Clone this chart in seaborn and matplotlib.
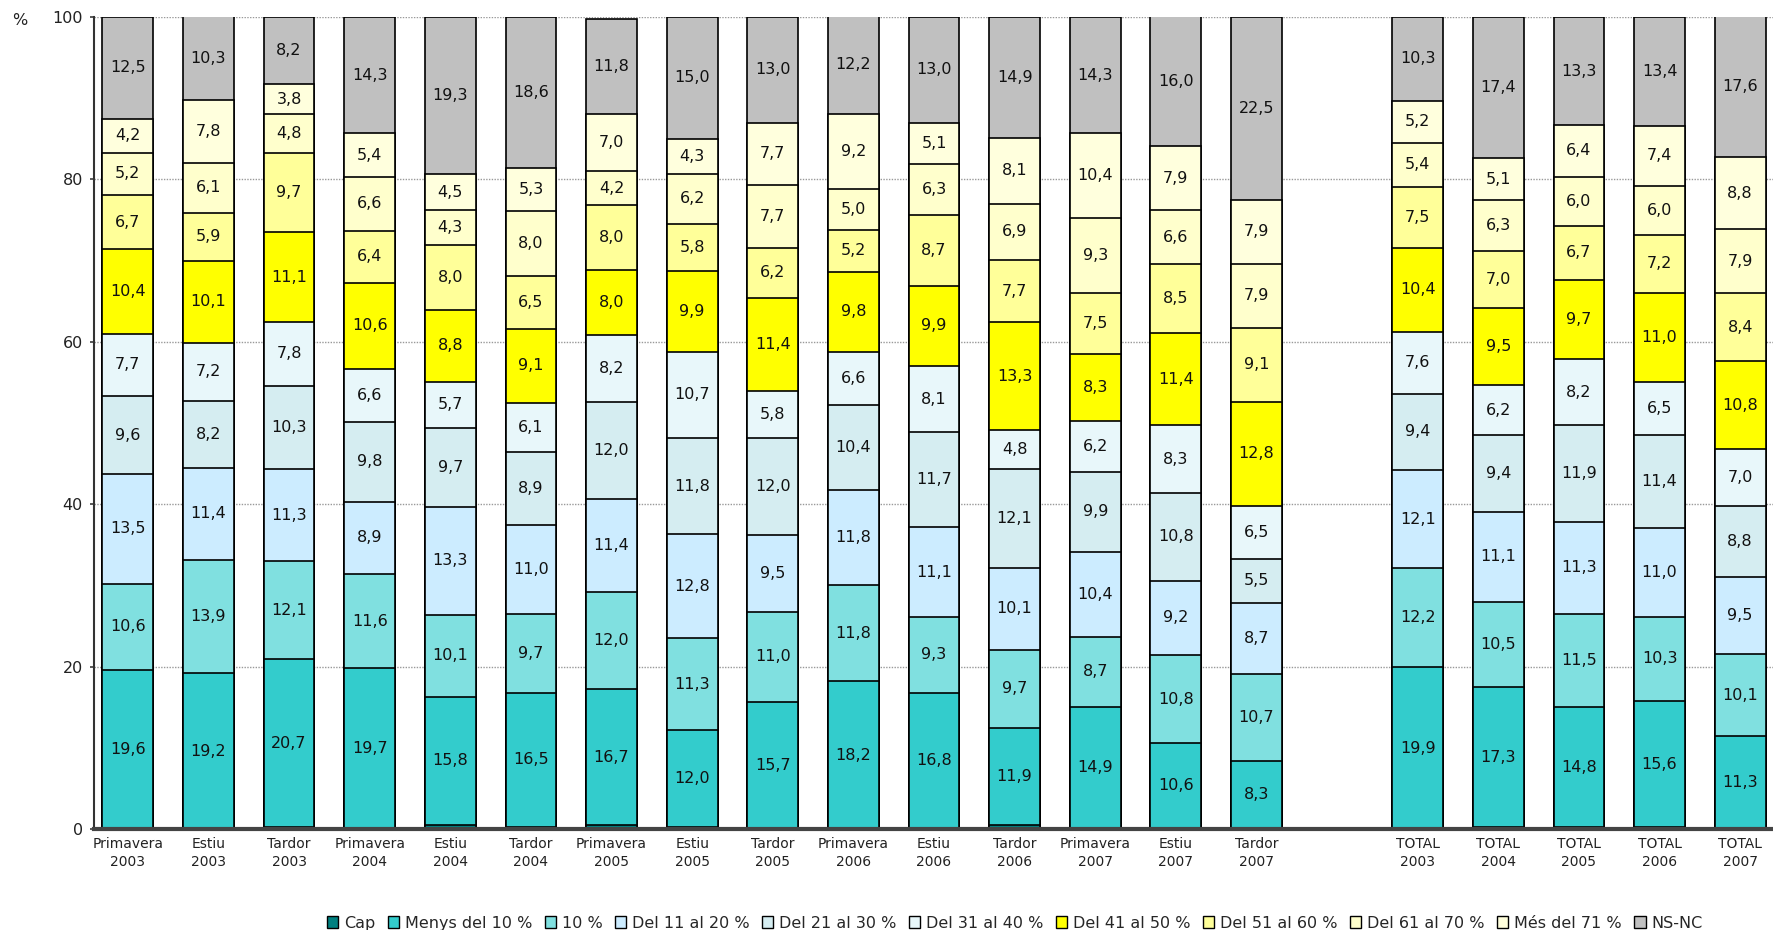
import numpy as np
import pandas as pd
import matplotlib
matplotlib.use("Agg")
import matplotlib.pyplot as plt
import seaborn as sns
from matplotlib.patches import Patch

# ---------------- data ----------------
periods = ["Primavera\n2003", "Estiu\n2003", "Tardor\n2003",
           "Primavera\n2004", "Estiu\n2004", "Tardor\n2004",
           "Primavera\n2005", "Estiu\n2005", "Tardor\n2005",
           "Primavera\n2006", "Estiu\n2006", "Tardor\n2006",
           "Primavera\n2007", "Estiu\n2007", "Tardor\n2007",
           "TOTAL\n2003", "TOTAL\n2004", "TOTAL\n2005", "TOTAL\n2006", "TOTAL\n2007"]
positions = list(range(15)) + list(range(16, 21))

categories = ["Cap", "Menys del 10 %", "10 %", "Del 11 al 20 %", "Del 21 al 30 %",
              "Del 31 al 40 %", "Del 41 al 50 %", "Del 51 al 60 %", "Del 61 al 70 %",
              "Més del 71 %", "NS-NC"]

cap = [0.0, 0.0, 0.2, 0.1, 0.5, 0.3, 0.5, 0.2, 0.0, 0.0, 0.0, 0.5, 0.1, 0.0, 0.1,
       0.0, 0.2, 0.2, 0.2, 0.1]
menys10 = [19.6, 19.2, 20.7, 19.7, 15.8, 16.5, 16.7, 12.0, 15.7, 18.2, 16.8, 11.9, 14.9, 10.6, 8.3,
           19.9, 17.3, 14.8, 15.6, 11.3]
p10 = [10.6, 13.9, 12.1, 11.6, 10.1, 9.7, 12.0, 11.3, 11.0, 11.8, 9.3, 9.7, 8.7, 10.8, 10.7,
       12.2, 10.5, 11.5, 10.3, 10.1]
d11_20 = [13.5, 11.4, 11.3, 8.9, 13.3, 11.0, 11.4, 12.8, 9.5, 11.8, 11.1, 10.1, 10.4, 9.2, 8.7,
          12.1, 11.1, 11.3, 11.0, 9.5]
d21_30 = [9.6, 8.2, 10.3, 9.8, 9.7, 8.9, 12.0, 11.8, 12.0, 10.4, 11.7, 12.1, 9.9, 10.8, 5.5,
          9.4, 9.4, 11.9, 11.4, 8.8]
d31_40 = [7.7, 7.2, 7.8, 6.6, 5.7, 6.1, 8.2, 10.7, 5.8, 6.6, 8.1, 4.8, 6.2, 8.3, 6.5,
          7.6, 6.2, 8.2, 6.5, 7.0]
d41_50 = [10.4, 10.1, 11.1, 10.6, 8.8, 9.1, 8.0, 9.9, 11.4, 9.8, 9.9, 13.3, 8.3, 11.4, 12.8,
          10.4, 9.5, 9.7, 11.0, 10.8]
d51_60 = [6.7, 5.9, 9.7, 6.4, 8.0, 6.5, 8.0, 5.8, 6.2, 5.2, 8.7, 7.7, 7.5, 8.5, 9.1,
          7.5, 7.0, 6.7, 7.2, 8.4]
d61_70 = [5.2, 6.1, 4.8, 6.6, 4.3, 8.0, 4.2, 6.2, 7.7, 5.0, 6.3, 6.9, 9.3, 6.6, 7.9,
          5.4, 6.3, 6.0, 6.0, 7.9]
mes71 = [4.2, 7.8, 3.8, 5.4, 4.5, 5.3, 7.0, 4.3, 7.7, 9.2, 5.1, 8.1, 10.4, 7.9, 7.9,
         5.2, 5.1, 6.4, 7.4, 8.8]
nsnc = [12.5, 10.3, 8.2, 14.3, 19.3, 18.6, 11.8, 15.0, 13.0, 12.2, 13.0, 14.9, 14.3, 16.0, 22.5,
        10.3, 17.4, 13.3, 13.4, 17.6]

series = [cap, menys10, p10, d11_20, d21_30, d31_40, d41_50, d51_60, d61_70, mes71, nsnc]
colors = ["#008080", "#33CCCC", "#80E0E0", "#CCECFF", "#D5EDF1", "#E8F7FA",
          "#FFFF00", "#FFFF99", "#FFFFCC", "#FFFFDD", "#C0C0C0"]

# ---------------- figure ----------------
sns.set_theme(style="white")
plt.rcParams["font.family"] = ["DejaVu Sans"]

fig = plt.figure(figsize=(17.74, 9.30), dpi=100)
ax = fig.add_axes([0.053, 0.1086, 0.947, 0.8731])

vals = np.array(series)
cum = np.cumsum(vals, axis=0)

# gridlines
for g in [20, 40, 60, 80, 100]:
    ax.axhline(g, color="#999999", lw=1.0, ls=(0, (1, 1)), zorder=0)

# overplot cumulative bars from top layer down
for i in range(len(series) - 1, -1, -1):
    df = pd.DataFrame({"pos": positions, "val": cum[i]})
    sns.barplot(data=df, x="pos", y="val", native_scale=True, width=0.63,
                color=colors[i], saturation=1, edgecolor="black", linewidth=1.2,
                errorbar=None, ax=ax, zorder=2)

# value labels
for i in range(1, len(series)):
    bottoms = cum[i] - vals[i]
    for p, b, v in zip(positions, bottoms, vals[i]):
        ax.text(p, b + v / 2, f"{v:.1f}".replace(".", ","), ha="center", va="center",
                fontsize=11.5, color="#111111", zorder=5)

ax.set_xlim(-0.42, 20.42)
ax.set_ylim(0, 100)
ax.set_xticks(positions)
ax.set_xticklabels(periods, fontsize=10, color="#222222", linespacing=1.35)
ax.set_yticks([0, 20, 40, 60, 80, 100])
ax.set_yticklabels(["0", "20", "40", "60", "80", "100"], fontsize=11.5, color="#222222")
ax.tick_params(axis="x", length=0, pad=6)
ax.tick_params(axis="y", length=3, pad=5, left=True, color="#444444")
ax.set_xlabel("")
ax.set_ylabel("")

for s in ["top", "right"]:
    ax.spines[s].set_visible(False)
ax.spines["left"].set_color("#333333")
ax.spines["left"].set_linewidth(1.5)
ax.spines["bottom"].set_color("#444444")
ax.spines["bottom"].set_linewidth(3)

fig.text(0.007, 0.978, "%", fontsize=11.5, ha="left", va="center", color="#222222")

handles = [Patch(facecolor=c, edgecolor="black", linewidth=1) for c in colors]
fig.legend(handles, categories, loc="lower center", bbox_to_anchor=(0.572, -0.011),
           ncol=11, frameon=False, fontsize=11.5, handlelength=0.7, handleheight=0.7,
           handletextpad=0.35, columnspacing=0.8, borderpad=0.1)

fig.savefig("out.png", dpi=100)
